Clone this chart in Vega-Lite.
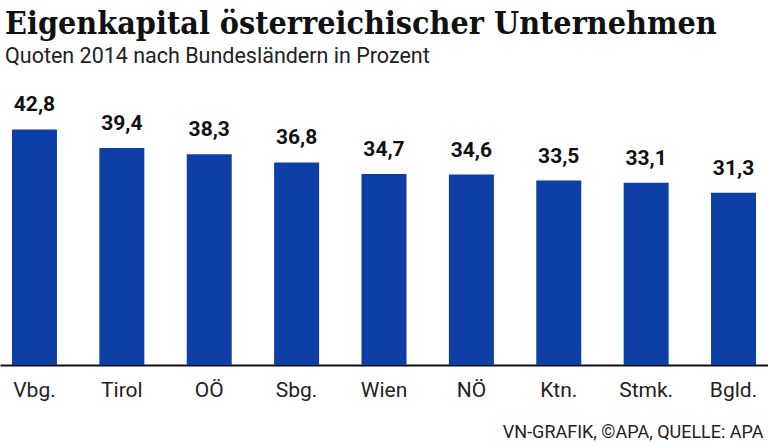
{
  "$schema": "https://vega.github.io/schema/vega-lite/v6.json",
  "width": 768,
  "height": 285,
  "autosize": {"type": "none"},
  "padding": {"left": 0, "right": 0, "top": 80, "bottom": 78},
  "background": "white",
  "config": {
    "view": {"stroke": null},
    "locale": {"number": {"decimal": ",", "thousands": ".", "grouping": [3], "currency": ["", " €"]}}
  },
  "title": {
    "text": "Eigenkapital österreichischer Unternehmen",
    "subtitle": "Quoten 2014 nach Bundesländern in Prozent",
    "anchor": "start",
    "frame": "group",
    "dx": 5,
    "offset": 12,
    "font": "DejaVu Serif Condensed, DejaVu Serif",
    "fontSize": 32,
    "fontWeight": "bold",
    "color": "#111111",
    "subtitleFont": "Roboto",
    "subtitleFontSize": 21.5,
    "subtitleColor": "#222222",
    "subtitlePadding": 5
  },
  "data": {
    "values": [
      {"land": "Vbg.", "quote": 42.8},
      {"land": "Tirol", "quote": 39.4},
      {"land": "OÖ", "quote": 38.3},
      {"land": "Sbg.", "quote": 36.8},
      {"land": "Wien", "quote": 34.7},
      {"land": "NÖ", "quote": 34.6},
      {"land": "Ktn.", "quote": 33.5},
      {"land": "Stmk.", "quote": 33.1},
      {"land": "Bgld.", "quote": 31.3}
    ]
  },
  "encoding": {
    "x": {
      "field": "land",
      "type": "nominal",
      "sort": null,
      "scale": {"paddingInner": 0.485, "paddingOuter": 0.137},
      "axis": {
        "title": "VN-GRAFIK, ©APA, QUELLE: APA",
        "titleFont": "Roboto",
        "titleFontSize": 18,
        "titleFontWeight": "normal",
        "titleColor": "#222222",
        "titleAnchor": "end",
        "titleAlign": "right",
        "titleBaseline": "alphabetic",
        "titleX": 763,
        "titleY": 72,
        "labelAngle": 0,
        "labelFont": "Roboto",
        "labelFontSize": 21,
        "labelColor": "#222222",
        "labelPadding": 14,
        "ticks": false,
        "domainColor": "#111111",
        "domainWidth": 2
      }
    },
    "y": {
      "field": "quote",
      "type": "quantitative",
      "scale": {"domain": [0, 51.77], "nice": false},
      "axis": null
    }
  },
  "layer": [
    {"mark": {"type": "bar", "color": "#0d3fa6"}},
    {
      "mark": {"type": "text", "baseline": "bottom", "dy": -14, "font": "Roboto", "fontSize": 21, "fontWeight": "bold", "color": "#111111"},
      "encoding": {"text": {"field": "quote", "type": "quantitative", "format": ".1f"}}
    }
  ]
}
